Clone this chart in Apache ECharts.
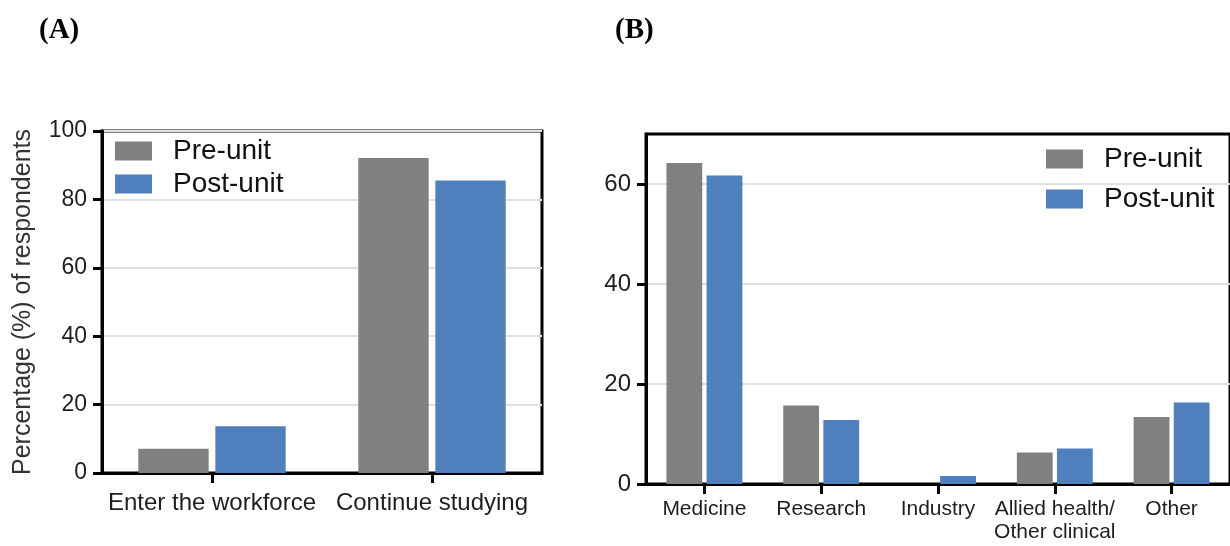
<!DOCTYPE html>
<html>
<head>
<meta charset="utf-8">
<script src="https://cdn.jsdelivr.net/npm/echarts@6/dist/echarts.min.js"></script>
<style>
html,body{margin:0;padding:0;background:#fff;}
#c{width:1230px;height:546px;}
</style>
</head>
<body>
<div id="c"></div>
<script>
// Panel A
const catsA = ['Enter the workforce', 'Continue studying'];
const preA = [7.1, 92.1];
const postA = [13.7, 85.5];
const ticksA = [0, 20, 40, 60, 80, 100];

// Panel B
const catsB = ['Medicine', 'Research', 'Industry', 'Allied health/\nOther clinical', 'Other'];
const preB = [64.2, 15.7, 0, 6.3, 13.4];
const postB = [61.7, 12.8, 1.6, 7.1, 16.3];
const ticksB = [0, 20, 40, 60];

const GRAY = '#808080';
const BLUE = '#4f80bd';
const TXT = '#1e1e1e';
const FONT = 'Liberation Sans, Arial, sans-serif';

const chart = echarts.init(document.getElementById('c'), null, {renderer: 'canvas'});

function yAxis(gridIndex, max, custom, fontSize, extra) {
  return Object.assign({
    type: 'value', gridIndex: gridIndex, min: 0, max: max, interval: 20,
    axisLine: {show: true, lineStyle: {color: '#000', width: 3}},
    axisTick: {show: true, length: 9, lineStyle: {color: '#000', width: 3}, customValues: custom},
    axisLabel: {color: TXT, fontSize: fontSize, fontFamily: FONT, margin: 15, customValues: custom},
    splitLine: {show: true, lineStyle: {color: '#e0e0e0', width: 2}}
  }, extra || {});
}

function xAxis(gridIndex, data, fontSize, margin) {
  return {
    type: 'category', gridIndex: gridIndex, data: data,
    axisLine: {show: true, lineStyle: {color: '#000', width: 3}},
    axisTick: {show: true, alignWithLabel: true, length: 10, lineStyle: {color: '#000', width: 3}},
    axisLabel: {color: TXT, fontSize: fontSize, fontFamily: FONT, margin: margin, interval: 0, lineHeight: 23},
    splitLine: {show: false}
  };
}

function legend(left, top, gap) {
  return {
    orient: 'vertical', left: left, top: top, padding: 0, itemGap: gap,
    itemWidth: 37, itemHeight: 19, icon: 'rect',
    data: ['Pre-unit', 'Post-unit'],
    textStyle: {color: '#111', fontSize: 28, fontFamily: FONT, padding: [0, 0, 0, 16], lineHeight: 28},
    selectedMode: false
  };
}

const option = {
  backgroundColor: '#fff',
  animation: false,
  title: [
    {text: '(A)', left: 34, top: 11, textStyle: {fontFamily: 'Liberation Serif, Times New Roman, serif', fontWeight: 'bold', fontSize: 29, color: '#000'}},
    {text: '(B)', left: 610, top: 11, textStyle: {fontFamily: 'Liberation Serif, Times New Roman, serif', fontWeight: 'bold', fontSize: 29, color: '#000'}}
  ],
  legend: [legend(115, 137, 5), legend(1046, 145, 12)],
  grid: [
    {left: 102, top: 131, width: 440, height: 342, show: true, borderColor: '#000', borderWidth: 3, backgroundColor: 'transparent'},
    {left: 646, top: 134, width: 587, height: 350, show: true, borderColor: '#000', borderWidth: 3, backgroundColor: 'transparent'}
  ],
  xAxis: [xAxis(0, catsA, 24, 19), xAxis(1, catsB, 21, 14)],
  yAxis: [
    yAxis(0, 100, ticksA, 23, {
      name: 'Percentage (%) of respondents', nameLocation: 'middle', nameGap: 66,
      nameTextStyle: {color: '#333', fontSize: 25, fontFamily: FONT}
    }),
    yAxis(1, 70, ticksB, 24)
  ],
  series: [
    {name: 'Pre-unit', type: 'bar', xAxisIndex: 0, yAxisIndex: 0, data: preA, itemStyle: {color: GRAY}, barGap: '9.5%', barCategoryGap: '33%'},
    {name: 'Post-unit', type: 'bar', xAxisIndex: 0, yAxisIndex: 0, data: postA, itemStyle: {color: BLUE}, barGap: '9.5%', barCategoryGap: '33%'},
    {name: 'Pre-unit', type: 'bar', xAxisIndex: 1, yAxisIndex: 1, data: preB, itemStyle: {color: GRAY}, barGap: '12%', barCategoryGap: '35%'},
    {name: 'Post-unit', type: 'bar', xAxisIndex: 1, yAxisIndex: 1, data: postB, itemStyle: {color: BLUE}, barGap: '12%', barCategoryGap: '35%'}
  ]
};
chart.setOption(option);
</script>
</body>
</html>
